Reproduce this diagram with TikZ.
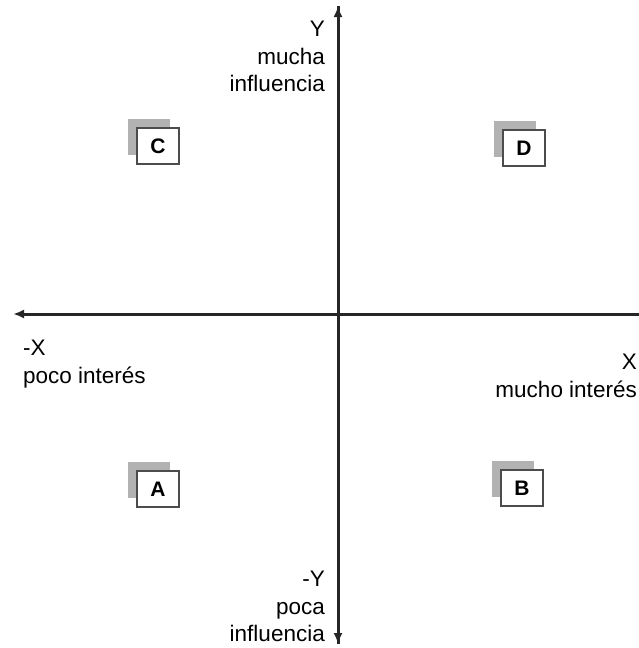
\documentclass[tikz,border=0pt]{standalone}
\usepackage{fontspec}
\setmainfont{Liberation Sans}
\usetikzlibrary{arrows.meta}
\begin{document}
\begin{tikzpicture}[x=1pt,y=-1pt,
  axis/.style={line width=3pt,color=black!85},
  tip/.style={-{Latex[length=11pt,width=9pt]}},
  front/.style={draw=black!70,line width=1.2pt,fill=white,minimum width=42pt,minimum height=36pt,inner sep=0pt,font=\fontsize{21}{24}\selectfont\bfseries},
  shadow/.style={fill=black!30,minimum width=42pt,minimum height=36pt,inner sep=0pt},
  lbl/.style={inner sep=0pt,font=\fontsize{22.5}{27.5}\selectfont}]
\useasboundingbox (0,0) rectangle (639,648);
% axes
\coordinate (xl) at (13,314);
\coordinate (xr) at (639,314);
\coordinate (yt) at (338,6);
\coordinate (yb) at (338,644);
\draw[axis,tip] (xr) -- (xl);
\draw[axis,tip] (yb) -- (yt);
\draw[axis,tip] (yt) -- (yb);
% boxes
\node[shadow] (cs) at (149,137) {};
\node[front] (c) at (158,146) {C};
\node[shadow] (ds) at (515,139) {};
\node[front] (d) at (524,148) {D};
\node[shadow] (as) at (149,480) {};
\node[front] (a) at (158,489) {A};
\node[shadow] (bs) at (513,479) {};
\node[front] (b) at (522,488) {B};
% labels
\node[lbl,align=right,anchor=north east] (ytop) at (325,21) {Y\\mucha\\influencia};
\node[lbl,align=right,anchor=north east] (ybot) at (325,571) {-Y\\poca\\influencia};
\node[lbl,align=left,anchor=north west] (xleft) at (23,340) {-X\\poco interés};
\node[lbl,align=right,anchor=north east] (xright) at (637,354) {X\\mucho interés};
\end{tikzpicture}
\end{document}
